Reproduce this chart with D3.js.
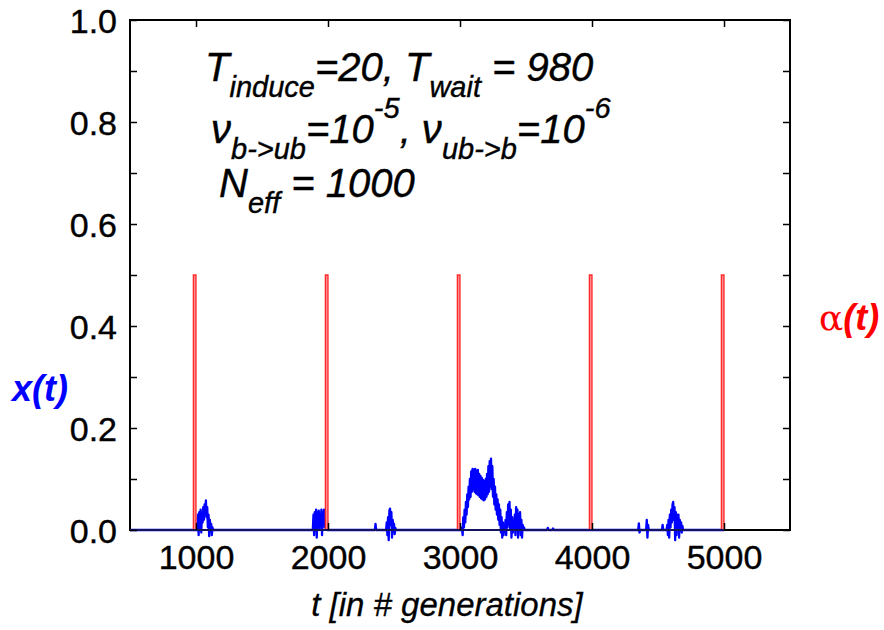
<!DOCTYPE html>
<html><head><meta charset="utf-8">
<script src="https://cdn.jsdelivr.net/npm/d3@7"></script>
<style>body{margin:0;background:#fff}svg{display:block}</style>
</head><body><svg id="c" width="884" height="630"></svg>
<script>
// ---- data ----
const tStart = 500, tEnd = 5000;          // extent of the simulated series
const burstStep = 5;                       // generations between samples inside bursts
const burstStarts = [1010, 1885, 2355, 2440, 3010, 3660, 3700, 4350, 4410, 4530, 4565];
const burstValues = [
  [0,0.03,-0.01,0.035,0.01,0.04,-0.005,0.03,0.015,0.045,0.02,0.05,0.03,0.058,0.025,0.045,0.005,0.03,-0.012,0.02,0,0.012,-0.01,0.005,0],
  [0,0.03,-0.01,0.035,0.005,0.04,-0.015,0.035,0.01,0.038,0,0.03,0.015,0.04,-0.01,0.035,0.02,0.04,0.005,0.035,0.01,0.03,0],
  [0,0.012,0],
  [0,0.015,-0.01,0.025,-0.02,0.038,0.042,0.01,0.035,-0.015,0.02,0.005,0.012,-0.008,0.004,0],
  [0,0.005,-0.01,0.025,0.005,0.04,0.015,0.055,0.03,0.07,0.045,0.085,0.06,0.1,0.065,0.115,0.075,0.12,0.08,0.118,
   0.075,0.12,0.072,0.116,0.07,0.118,0.068,0.11,0.065,0.106,0.062,0.102,0.06,0.098,0.058,0.095,0.06,0.1,0.065,0.11,
   0.07,0.125,0.075,0.135,0.085,0.14,0.08,0.125,0.065,0.1,0.05,0.085,0.04,0.07,0.03,0.06,0.02,0.05,0.01,0.04,
   -0.005,0.025,-0.015,0.015,-0.01,0.005,0,0.02,-0.01,0.035,0.005,0.05,0.01,0.055,0,0.04,-0.015,0.025,-0.005,0.01,
   0,0.03,-0.01,0.045,0.005,0.04,-0.015,0.03,0,0.035,-0.01,0.02,-0.015,0.01,0,0.005,0],
  [0,0.004,0],
  [0,0.003,0],
  [0,0.013,-0.005,0],
  [0,0.02,-0.015,0.01,0],
  [0,0.01,0],
  [0,0.01,-0.01,0.02,-0.015,0.03,0.005,0.04,0.015,0.05,0.055,0.02,0.045,-0.02,0.035,-0.01,0.03,0.005,0.03,-0.015,0.02,0,0.015,-0.005,0.008,0]
];
const pulseStart = [980, 1980, 2980, 3980, 4980];
const pulseEnd   = [1000, 2000, 3000, 4000, 5000];
const pulseHeight = 0.5;
const xTicks = [1000, 2000, 3000, 4000, 5000];
const yTicks = [0, 0.2, 0.4, 0.6, 0.8, 1.0];
const yMinorTicks = [0.1, 0.3, 0.5, 0.7, 0.9];

// ---- build series ----
const xSeries = [[tStart, 0]];
burstStarts.forEach((s, i) => burstValues[i].forEach((v, j) => xSeries.push([s + j * burstStep, v])));
xSeries.push([tEnd, 0]);
const aSeries = [[tStart, 0]];
pulseStart.forEach((s, i) => { aSeries.push([s, 0], [s, pulseHeight], [pulseEnd[i], pulseHeight], [pulseEnd[i], 0]); });
aSeries.push([tEnd, 0]);

// ---- layout ----
const L = 130, R = 790, T = 20, B = 530;
const svg = d3.select('#c');
const x = d3.scaleLinear().domain([500, 5500]).range([L, R]);
const y = d3.scaleLinear().domain([0, 1]).range([B, T]);
const line = d3.line().x(d => x(d[0])).y(d => y(d[1]));

svg.append('path').datum(xSeries).attr('d', line)
  .attr('fill', 'none').attr('stroke', '#0000ff').attr('stroke-width', 2.3).attr('stroke-linejoin', 'round');
svg.append('path').datum(aSeries).attr('d', line)
  .attr('fill', '#ff8c8c').attr('stroke', '#ff2a2a').attr('stroke-width', 1.3);

// ---- frame + axes (ticks inward on all four sides) ----
const FONT = 'Liberation Sans, Arial, sans-serif';
svg.append('rect').attr('x', L).attr('y', T).attr('width', R - L).attr('height', B - T)
  .attr('fill', 'none').attr('stroke', '#000').attr('stroke-width', 2);
svg.append('line').attr('x1', x(tStart)).attr('x2', x(tEnd)).attr('y1', B).attr('y2', B)
  .attr('stroke', '#2020a0').attr('stroke-width', 2).attr('stroke-opacity', 0.6);
const tickLen = 7;
const axB = svg.append('g').attr('transform', `translate(0,${B})`)
  .call(d3.axisBottom(x).tickValues(xTicks).tickSize(-tickLen).tickPadding(tickLen + 5).tickFormat(d3.format('d')));
const axT = svg.append('g').attr('transform', `translate(0,${T})`)
  .call(d3.axisTop(x).tickValues(xTicks).tickSize(-tickLen).tickFormat(''));
const axL = svg.append('g').attr('transform', `translate(${L},0)`)
  .call(d3.axisLeft(y).tickValues(yTicks.concat(yMinorTicks)).tickSize(-tickLen).tickPadding(tickLen + 6)
    .tickFormat(d => yTicks.includes(d) ? d3.format('.1f')(d) : ''));
const axR = svg.append('g').attr('transform', `translate(${R},0)`)
  .call(d3.axisRight(y).tickValues(yTicks.concat(yMinorTicks)).tickSize(-tickLen).tickFormat(''));
[axB, axT, axL, axR].forEach(g => {
  g.select('.domain').remove();
  g.selectAll('.tick line').attr('stroke', '#000').attr('stroke-width', 1.5);
  g.selectAll('text').attr('font-family', FONT).attr('font-size', 34).attr('fill', '#000')
    .attr('stroke', '#000').attr('stroke-width', 0.4);
});
axB.selectAll('text').attr('dy', '0.78em');
axL.selectAll('text').attr('dy', '0.36em');

// ---- labels ----
svg.append('text').attr('x', 447).attr('y', 616).attr('text-anchor', 'middle')
  .attr('font-family', FONT).attr('font-style', 'italic').attr('font-size', 33)
  .attr('stroke', '#000').attr('stroke-width', 0.3).text('t [in # generations]');
svg.append('text').attr('x', 12).attr('y', 401).attr('font-family', FONT).attr('font-style', 'italic')
  .attr('font-weight', 'bold').attr('font-size', 36).attr('fill', '#0000ff').text('x(t)');
const al = svg.append('text').attr('x', 819).attr('y', 330).attr('font-family', FONT).attr('font-size', 36).attr('fill', '#ff0000');
al.append('tspan').attr('font-family', 'DejaVu Serif, serif').text('α');
al.append('tspan').attr('font-style', 'italic').attr('font-weight', 'bold').text('(t)');

// annotation with sub/superscripts
function rich(xp, yp, segs) {
  const t = svg.append('text').attr('x', xp).attr('y', yp).attr('font-family', FONT)
    .attr('font-style', 'italic').attr('font-size', 40).attr('fill', '#000')
    .attr('stroke', '#000').attr('stroke-width', 0.4);
  let cur = 0;
  segs.forEach(([txt, mode]) => {
    const target = mode === 'sub' ? 16 : mode === 'sup' ? -25 : 0;
    t.append('tspan').attr('dy', target - cur).attr('font-size', mode ? 29 : 40).text(txt);
    cur = target;
  });
}
rich(205, 81, [['T'], ['induce', 'sub'], ['=20, T'], ['wait', 'sub'], [' = 980']]);
rich(211, 143, [['ν'], ['b->ub', 'sub'], ['=10'], ['-5', 'sup'], [',  ν'], ['ub->b', 'sub'], ['=10'], ['-6', 'sup']]);
rich(219, 197, [['N'], ['eff', 'sub'], [' = 1000']]);
</script></body></html>
